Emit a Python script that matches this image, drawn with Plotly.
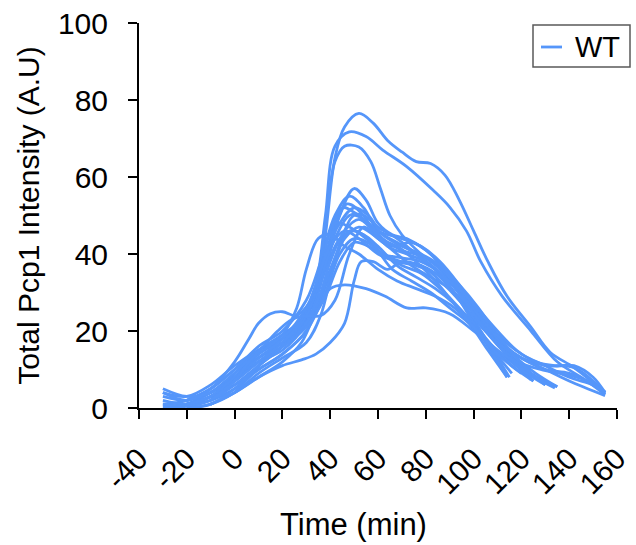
import plotly.graph_objects as go

# Time points (min) and total Pcp1 intensity (A.U) for each WT cell track
track_times = [
    [-20, -10, 0, 10, 20, 28, 34, 38, 42, 46, 52, 58, 64, 70, 76, 82, 88, 94, 100, 106, 114, 124, 132, 142, 155],
    [-20, -10, 0, 10, 20, 28, 34, 38, 42, 48, 55, 62, 72, 83, 90, 97, 103, 112, 124, 135, 145, 155],
    [-10, 0, 10, 20, 28, 34, 38, 42, 46, 52, 57, 61, 65, 70, 78, 86, 95, 105, 115, 125],
    [-30, -20, -10, 0, 10, 20, 30, 38, 44, 50, 55, 60, 66, 72, 80, 88, 96, 104, 112, 120, 130],
    [-30, -20, -10, 0, 10, 20, 30, 36, 42, 48, 54, 60, 68, 76, 84, 92, 100, 108, 115],
    [-20, -10, 0, 10, 20, 28, 34, 40, 47, 54, 60, 66, 74, 82, 90, 98, 106, 114, 124],
    [-30, -20, -10, 0, 10, 20, 30, 36, 40, 45, 52, 60, 70, 78, 86, 94, 102, 110, 118, 126, 135],
    [-30, -20, -10, 0, 10, 20, 30, 40, 46, 50, 56, 62, 70, 80, 90, 100, 110, 120, 130, 140, 150, 155],
    [-20, -10, 0, 10, 20, 30, 36, 42, 48, 55, 62, 70, 78, 86, 94, 102, 110, 120, 130, 140, 155],
    [-10, 0, 10, 20, 28, 34, 40, 46, 50, 53, 58, 64, 70, 78, 86, 94, 102, 110, 120, 130, 142, 155],
    [-10, 0, 10, 20, 28, 34, 40, 46, 55, 63, 72, 80, 90, 100, 110, 120, 132],
    [-30, -20, -10, 0, 10, 20, 30, 38, 44, 50, 58, 66, 74, 82, 90, 98, 106, 114],
    [-20, -10, 0, 10, 20, 30, 36, 42, 48, 54, 60, 68, 76, 84, 92, 100, 108, 116, 125],
    [0, 6, 12, 20, 28, 34, 40, 46, 52, 58, 66, 74, 82, 90, 98, 106, 114, 124, 135],
    [-30, -20, -10, 0, 6, 10, 15, 20, 26, 32, 38, 44, 50, 56, 62, 70, 78, 86, 94, 102, 110, 120, 130, 140, 150, 155],
    [-30, -20, -10, 0, 10, 20, 30, 36, 42, 48, 54, 60, 68, 76, 84, 92, 100, 108, 114],
    [-20, -10, 0, 10, 20, 30, 36, 40, 46, 52, 58, 64, 72, 80, 88, 96, 104, 112, 120, 130],
    [-30, -20, -10, 0, 10, 20, 30, 38, 44, 50, 56, 62, 70, 78, 86, 94, 102, 110, 118, 128, 140, 148, 155],
    [-20, -10, 0, 10, 20, 26, 32, 38, 44, 50, 56, 62, 70, 78, 86, 94, 102, 110, 118, 126, 134],
    [-30, -20, -10, 0, 10, 20, 30, 34, 40, 46, 52, 60, 68, 76, 84, 92, 100, 110, 118, 126, 134, 142, 150, 155],
    [-20, -10, 0, 10, 20, 26, 30, 35, 40, 46, 52, 60, 68, 76, 84, 92, 100, 108, 116],
    [-10, 0, 6, 12, 18, 24, 30, 36, 42, 48, 54, 60, 68, 76, 84, 92, 100, 110, 120],
]
track_intensity = [
    [1, 4, 9, 14, 18, 22, 30, 45, 65, 73, 76.5, 74, 69.5, 66.5, 64, 63.5, 60.5, 54, 46, 38, 29, 21, 14.5, 10.5, 4],
    [2, 5, 10, 15, 19, 23, 32, 50, 68, 71.7, 70.5, 67, 62.7, 56.6, 52.2, 46, 38, 29, 20, 12, 8, 3.5],
    [2, 8, 13, 17, 21, 30, 48, 64, 68, 67.8, 64, 57, 50, 45, 40, 36, 29, 20, 13, 7],
    [4, 3, 6, 11, 15, 18, 24, 36, 50, 57, 54, 48, 45, 44, 41, 36, 29, 22, 16, 11, 6],
    [1, 2, 5, 10, 16, 20, 28, 38, 50, 55, 52, 46, 43, 40, 36, 30, 23, 15, 8],
    [1, 3, 8, 13, 17, 22, 30, 43, 53, 50, 44, 42, 43, 40, 34, 27, 20, 14, 7.3],
    [3, 2, 4, 8, 12, 15, 22, 32, 44, 52, 50, 46, 44, 42, 38, 32, 25, 18, 13, 9, 5.5],
    [0.5, 1, 3, 6, 10, 14, 20, 35, 46, 50, 48, 44, 41, 39, 34, 26, 19, 14, 11, 8, 6, 4.2],
    [2, 4, 9, 15, 19, 24, 36, 48, 47, 44, 40, 39, 38, 35, 30, 24, 18, 13, 10, 7, 3.2],
    [1, 4, 8, 11, 12.5, 14, 17, 22, 33, 38, 38, 36, 38, 37, 34, 28, 22, 17, 13, 11, 10.5, 4],
    [1, 4, 8, 12, 17, 25, 31, 32, 31, 29, 26, 26, 24.5, 20, 15, 10, 6],
    [2, 1, 2, 5, 10, 14, 20, 30, 40, 44, 42, 36, 33, 30, 26, 22, 15, 8],
    [0, 1, 4, 9, 13, 17, 24, 38, 46, 45, 42, 37, 34, 31, 27, 22, 16, 11, 7],
    [4, 8, 12, 16, 20, 26, 36, 44, 47, 45, 41, 37, 34, 31, 26, 20, 14, 9, 5.5],
    [4, 2, 5, 12, 18, 22, 24.5, 25, 24, 28, 36, 44, 46, 44, 40, 38, 37, 33, 28, 22, 17, 13, 10, 9, 6, 3.5],
    [1, 0.5, 2, 6, 11, 16, 24, 34, 44, 50, 50, 47, 44, 40, 36, 30, 22, 14, 8],
    [0, 1, 5, 11, 16, 22, 30, 38, 46, 49, 46, 42, 40, 38, 34, 28, 21, 15, 10, 6],
    [0, 0.5, 3, 7, 12, 16, 21, 29, 38, 43, 42, 40, 37, 35, 31, 26, 20, 15, 12, 10, 8.5, 7, 3.8],
    [1, 3, 7, 12, 17, 21, 28, 40, 48, 52, 50, 45, 42, 40, 37, 32, 26, 19, 13, 8, 5.2],
    [5, 3, 4, 8, 13, 18, 26, 32, 42, 46, 44, 40, 38, 37, 35, 32, 27, 20, 15, 12, 11, 11, 8, 4],
    [1, 3, 8, 14, 19, 26, 36, 44, 45, 42, 40, 36, 33, 31, 29, 26, 21, 15, 9],
    [2, 7, 12, 16, 20, 23, 24, 24, 28, 40, 47, 44, 42, 38, 33, 27, 21, 14, 9],
]
series_name = "WT"
x_title = "Time (min)"
y_title = "Total Pcp1 Intensity (A.U)"
x_ticks = [-40, -20, 0, 20, 40, 60, 80, 100, 120, 140, 160]
y_ticks = [0, 20, 40, 60, 80, 100]

W, H = 636, 545
ML, MR, MT, MB = 139, 19, 23, 137
PW, PH = W - ML - MR, H - MT - MB


def px_to_paper_x(px):
    return (px - ML) / PW


def px_to_paper_y(py):
    return (H - MB - py) / PH


line_color = "#5596FA"
fig = go.Figure()
for i, (tx, ty) in enumerate(zip(track_times, track_intensity)):
    fig.add_trace(go.Scatter(
        x=tx, y=ty, mode="lines", name=series_name, legendgroup=series_name,
        showlegend=False,
        line=dict(color=line_color, width=2.8, shape="spline", smoothing=1),
    ))

family = "Liberation Sans, Arial, sans-serif"
font = dict(family=family, size=30, color="black")

# compact legend box (drawn in paper coordinates)
shapes = [
    dict(type="rect", xref="paper", yref="paper",
         x0=px_to_paper_x(533), x1=px_to_paper_x(630),
         y0=px_to_paper_y(67), y1=px_to_paper_y(25),
         line=dict(color="#5a5a5a", width=1.5), fillcolor="white", layer="above"),
    dict(type="line", xref="paper", yref="paper",
         x0=px_to_paper_x(541), x1=px_to_paper_x(562),
         y0=px_to_paper_y(47), y1=px_to_paper_y(47),
         line=dict(color=line_color, width=2.8), layer="above"),
]
annotations = [
    dict(text=series_name, xref="paper", yref="paper",
         x=px_to_paper_x(573), y=px_to_paper_y(47), xanchor="left", yanchor="middle",
         showarrow=False, font=dict(family=family, size=29, color="black")),
    dict(text=x_title, xref="paper", yref="paper",
         x=px_to_paper_x(353), y=px_to_paper_y(524), xanchor="center", yanchor="middle",
         showarrow=False, font=dict(family=family, size=31, color="black")),
]

fig.update_layout(
    width=W, height=H,
    margin=dict(l=ML, r=MR, t=MT, b=MB, autoexpand=False),
    paper_bgcolor="white", plot_bgcolor="white",
    font=font,
    showlegend=False,
    shapes=shapes,
    annotations=annotations,
    xaxis=dict(range=[-40, 160], tickvals=x_ticks, ticktext=[str(v) for v in x_ticks],
               tickangle=-45, showline=True, linecolor="black", linewidth=2,
               ticks="outside", ticklen=9, tickwidth=2, tickcolor="black",
               showgrid=False, zeroline=False, automargin=False,
               ticklabelstandoff=10),
    yaxis=dict(range=[0, 100], tickvals=y_ticks, showline=True, linecolor="black",
               linewidth=2, ticks="outside", ticklen=9, tickwidth=2, tickcolor="black",
               showgrid=False, zeroline=False, automargin=False,
               ticklabelstandoff=14,
               title=dict(text=y_title, font=font, standoff=9)),
)
fig.write_html("out.html", config={"displayModeBar": False},
               post_script="document.body.style.margin='0';document.body.style.padding='0';")
